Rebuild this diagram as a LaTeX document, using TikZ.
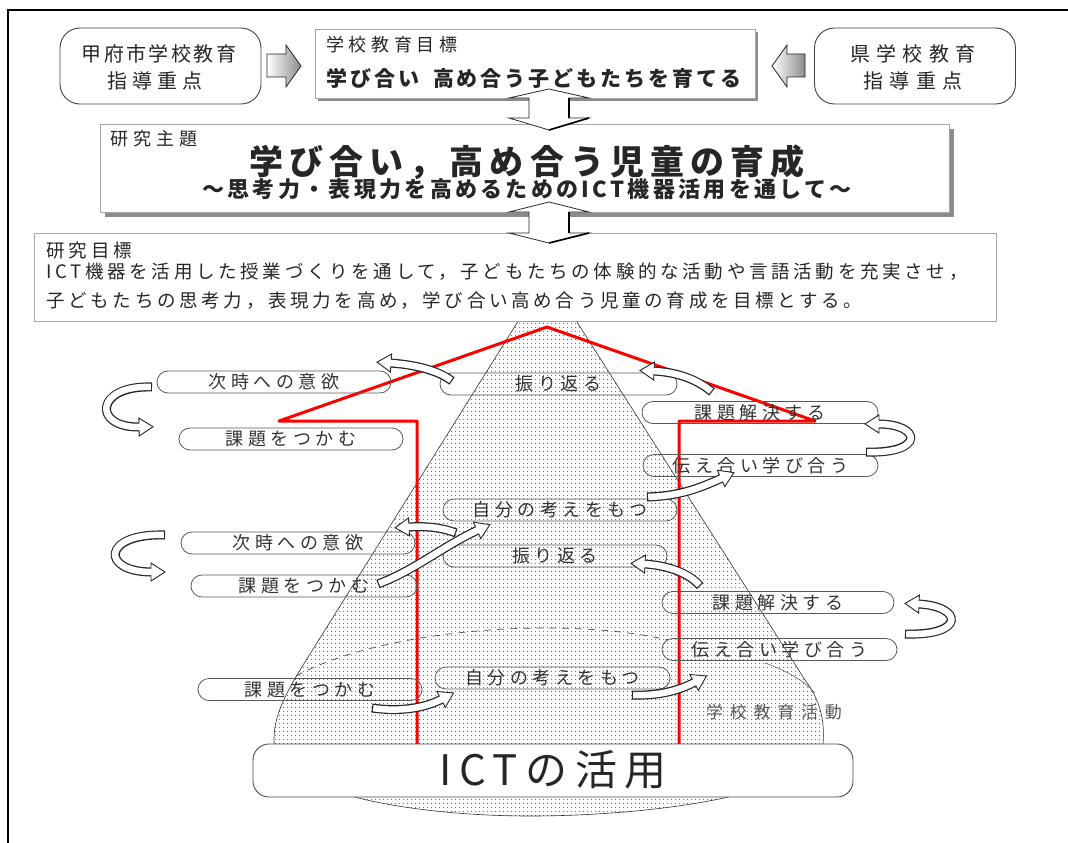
\documentclass[tikz,border=0pt]{standalone}
\usepackage{fontspec}
\newfontfamily\jp{Noto Sans CJK JP}
\usetikzlibrary{calc,patterns.meta,shadows}
\newcommand\fs[1]{\fontsize{#1}{#1}\selectfont}
\newcommand\LS[2]{{\addfontfeatures{LetterSpace=#1}#2}}
\newcommand\blockarc[4]{%
  \draw[line width=9pt, black!85] (#1) .. controls (#2) and (#3) .. (#4);
  \coordinate (hb) at ($(#4)!1pt!(#3)$);
  \filldraw[fill=white, draw=black!85, line width=0.9pt, line join=miter]
    ($(#4)!-13pt!(#3)$) -- ($(hb)!9pt!90:(#3)$) -- ($(hb)!9pt!-90:(#3)$) -- cycle;
  \draw[line width=6.5pt, white, shorten <=1.2pt] (#1) .. controls (#2) and (#3) .. (#4);
}
\begin{document}
\begin{tikzpicture}[x=1pt,y=-1pt,
  pill/.style={draw=black!65, line width=0.8pt, rounded corners=11pt, minimum height=22pt, inner sep=0pt, font=\jp\fs{18}, text=black!80},
  toppill/.style={draw=black!75, line width=0.9pt, rounded corners=20pt, minimum width=201pt, minimum height=76pt, inner sep=0pt},
  mainbox/.style={draw=black!35, line width=0.8pt, fill=white, inner sep=0pt},
  shad/.style={drop shadow={shadow xshift=#1, shadow yshift=-#1, fill=black!45, opacity=1}},
  lbl/.style={inner sep=0pt, anchor=west, text=black!85},
  ctr/.style={inner sep=0pt, text=black!85},
  redline/.style={red, line width=3pt, line join=round},
  bigarrow/.style={fill=white, draw=black!85, line width=0.8pt, line join=miter},
  sidearrow/.style={left color=white, right color=black!45, draw=black!85, line width=0.8pt},
  cone/.style={pattern={Dots[distance=4pt,radius=0.7pt]}, pattern color=black!60, draw=black!80, line width=0.6pt},
]
\useasboundingbox[fill=white] (0,0) rectangle (1068,843);
% frame
\draw[line width=1.5pt] (8,843) -- (8,10) -- (1068,10);

% cone
\path[cone] (547,275) -- (300,670) .. controls (282,700) and (273,720) .. (274,744)
  .. controls (280,795) and (420,816) .. (530,816) .. controls (650,816) and (815,795) .. (823,744)
  .. controls (825,720) and (820,700) .. (805,680) -- cycle;
\draw[black!70, line width=0.7pt, dash pattern=on 7pt off 6pt] (296,676) .. controls (380,630) and (560,615) .. (668,640);
\draw[black!60, line width=0.6pt] (765,663) .. controls (790,672) and (805,682) .. (815,693);

% red frame
\draw[redline] (417,744) -- (417,421) -- (279,421) -- (547,327) -- (815,421) -- (679,421) -- (679,744);

% pills
\node[pill, minimum width=234pt] (p1) at (274,382) {\LS{25}{次時への意欲}};
\node[pill, minimum width=237pt] (p2) at (558.5,384) {\LS{25}{振り返る}};
\node[pill, minimum width=236pt] (p3) at (760,412.5) {\LS{25}{課題解決する}};
\node[pill, minimum width=235pt] (p4) at (760.5,465.5) {\LS{25}{伝え合い学び合う}};
\node[pill, minimum width=234pt] (p5) at (560,510) {\LS{25}{自分の考えをもつ}};
\node[pill, minimum width=224pt] (p6) at (291,439) {\LS{25}{課題をつかむ}};
\node[pill, minimum width=234pt] (p7) at (298,543) {\LS{25}{次時への意欲}};
\node[pill, minimum width=226pt] (p8) at (304,586) {\LS{25}{課題をつかむ}};
\node[pill, minimum width=224pt] (p9) at (555,556) {\LS{25}{振り返る}};
\node[pill, minimum width=232pt] (p10) at (778,602.5) {\LS{25}{課題解決する}};
\node[pill, minimum width=235pt] (p11) at (779.5,649.5) {\LS{25}{伝え合い学び合う}};
\node[pill, minimum width=235pt] (p12) at (552.5,678) {\LS{25}{自分の考えをもつ}};
\node[pill, minimum width=224pt] (p13) at (310,689.5) {\LS{25}{課題をつかむ}};

% curved block arrows
\coordinate (a1s) at (452,381); \coordinate (a1c) at (440,372); \coordinate (a1d) at (420,365); \coordinate (a1e) at (390,363);
\coordinate (a2s) at (712,392); \coordinate (a2c) at (695,378); \coordinate (a2d) at (675,372); \coordinate (a2e) at (653,371);
\coordinate (a3s) at (647,497); \coordinate (a3c) at (680,496); \coordinate (a3d) at (700,488); \coordinate (a3e) at (722,478);
\coordinate (a4s) at (378,584); \coordinate (a4c) at (415,570); \coordinate (a4d) at (445,545); \coordinate (a4e) at (478,530);
\coordinate (a5s) at (456,533); \coordinate (a5c) at (440,527); \coordinate (a5d) at (425,526); \coordinate (a5e) at (408,527);
\coordinate (a6s) at (700,586); \coordinate (a6c) at (688,572); \coordinate (a6d) at (665,565); \coordinate (a6e) at (644,564);
\coordinate (a7s) at (372,708); \coordinate (a7c) at (400,712); \coordinate (a7d) at (425,708); \coordinate (a7e) at (442,699);
\coordinate (a8s) at (632,695); \coordinate (a8c) at (660,696); \coordinate (a8d) at (680,690); \coordinate (a8e) at (695,682);
\coordinate (l1s) at (152,387); \coordinate (l1c) at (95,385); \coordinate (l1d) at (92,428); \coordinate (l1e) at (140,427);
\coordinate (l2s) at (165,535); \coordinate (l2c) at (102,533); \coordinate (l2d) at (100,572); \coordinate (l2e) at (152,572);
\coordinate (r1s) at (866,452); \coordinate (r1c) at (925,454); \coordinate (r1d) at (922,424); \coordinate (r1e) at (878,424);
\coordinate (r2s) at (905,634); \coordinate (r2c) at (966,636); \coordinate (r2d) at (963,606); \coordinate (r2e) at (918,604);
\blockarc{a1s}{a1c}{a1d}{a1e}
\blockarc{a2s}{a2c}{a2d}{a2e}
\blockarc{a3s}{a3c}{a3d}{a3e}
\blockarc{a4s}{a4c}{a4d}{a4e}
\blockarc{a5s}{a5c}{a5d}{a5e}
\blockarc{a6s}{a6c}{a6d}{a6e}
\blockarc{a7s}{a7c}{a7d}{a7e}
\blockarc{a8s}{a8c}{a8d}{a8e}
\blockarc{l1s}{l1c}{l1d}{l1e}
\blockarc{l2s}{l2c}{l2d}{l2e}
\blockarc{r1s}{r1c}{r1d}{r1e}
\blockarc{r2s}{r2c}{r2d}{r2e}

% school activity label
\node[ctr, font=\jp\fs{17}, text=black!65] (gk) at (774,712) {\LS{40}{学校教育活動}};

% ICT box
\node[draw=black!70, line width=0.9pt, fill=white, rounded corners=16pt, minimum width=600pt, minimum height=53pt] (ict) at (553,770.5) {};
\node[ctr, font=\jp\fs{42}] (ictt) at (553,770) {\LS{18}{ICTの活用}};

% boxes
\node[mainbox, shad=3pt, minimum width=440pt, minimum height=69pt] (b1) at (535,63.5) {};
\node[lbl, font=\jp\fs{18}] (b1t) at (326,45) {\LS{26}{学校教育目標}};
\node[lbl, font=\jp\bfseries\fs{21}] (b1m) at (326,78) {\LS{14}{学び合い}\hspace{14pt}\LS{14}{高め合う子どもたちを育てる}};

\node[mainbox, shad=5pt, minimum width=849pt, minimum height=88pt] (b2) at (524.5,168) {};
\node[lbl, font=\jp\fs{18}] (b2t) at (110,139) {\LS{28}{研究主題}};
\node[ctr, font=\jp\bfseries\fs{34}] (b2m) at (527,162) {\LS{18}{学び合い，高め合う児童の育成}};
\node[ctr, font=\jp\bfseries\fs{22}] (b2s) at (527,189) {\LS{15}{～思考力・表現力を高めるためのICT機器活用を通して～}};

\node[mainbox, minimum width=962pt, minimum height=88pt] (b3) at (515,277) {};
\node[lbl, font=\jp\fs{18.5}] (b3t) at (46,250) {\LS{22}{研究目標}};
\node[lbl, font=\jp\fs{18.5}] (b3a) at (46,272) {\LS{20}{ICT機器を活用した授業づくりを通して，子どもたちの体験的な活動や言語活動を充実させ，}};
\node[lbl, font=\jp\fs{18.5}] (b3b) at (46,301) {\LS{20}{子どもたちの思考力，表現力を高め，学び合い高め合う児童の育成を目標とする。}};

% up-down block arrows
\path[bigarrow] (549,89) -- (589,98) -- (569,98) -- (569,118) -- (589,118) -- (549,130) -- (509,118) -- (529,118) -- (529,98) -- (509,98) -- cycle;
\draw[line width=2.5pt] (569,98) -- (569,118);
\draw[line width=1.6pt] (589,118) -- (549,130);
\path[bigarrow] (549,202) -- (589,212) -- (569,212) -- (569,233) -- (589,233) -- (549,243) -- (509,233) -- (529,233) -- (529,212) -- (509,212) -- cycle;
\draw[line width=2.5pt] (569,212) -- (569,233);
\draw[line width=1.6pt] (589,233) -- (549,243);

% top pills
\node[toppill] (kofu) at (160.5,66) {};
\node[ctr, font=\jp\fs{20}] (kofu1) at (159,54) {\LS{12}{甲府市学校教育}};
\node[ctr, font=\jp\fs{20}] (kofu2) at (155,81) {\LS{25}{指導重点}};
\node[toppill] (ken) at (915,66) {};
\node[ctr, font=\jp\fs{20}] (ken1) at (913,54) {\LS{32}{県学校教育}};
\node[ctr, font=\jp\fs{20}] (ken2) at (913,81) {\LS{31}{指導重点}};

% side block arrows
\shadedraw[sidearrow] (267,54) -- (286,54) -- (286,45) -- (301,66) -- (286,87) -- (286,77) -- (267,77) -- cycle;
\shadedraw[sidearrow] (805,54) -- (787,54) -- (787,45) -- (772,66) -- (787,87) -- (787,77) -- (805,77) -- cycle;
\end{tikzpicture}
\end{document}
